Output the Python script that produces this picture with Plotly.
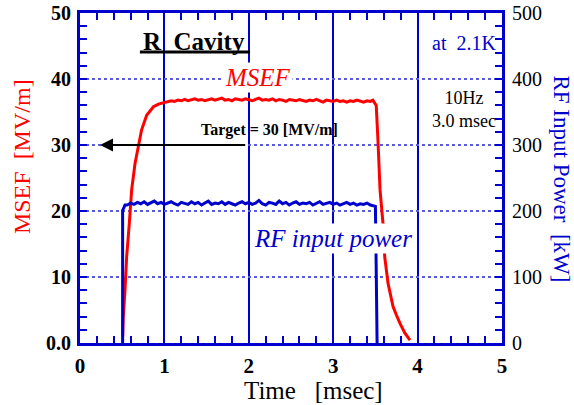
import plotly.graph_objects as go

# ---------------- data ----------------
msef_time = [0.506, 0.513, 0.533, 0.553, 0.584, 0.612, 0.652, 0.691, 0.73, 0.79, 0.87, 0.93, 0.99,
             1.04, 1.08, 1.12, 1.16, 1.20, 1.24, 1.28, 1.32, 1.36, 1.40,
             1.44, 1.48, 1.52, 1.56, 1.60, 1.64, 1.68, 1.72, 1.76, 1.80,
             1.84, 1.88, 1.92, 1.96, 2.00, 2.04, 2.08, 2.12, 2.16, 2.20,
             2.24, 2.28, 2.32, 2.36, 2.40, 2.44, 2.48, 2.52, 2.56, 2.60,
             2.64, 2.68, 2.72, 2.76, 2.80, 2.84, 2.88, 2.92, 2.96, 3.00,
             3.04, 3.08, 3.12, 3.16, 3.20, 3.24, 3.28, 3.32, 3.36, 3.40,
             3.44, 3.47, 3.50, 3.51, 3.53, 3.555, 3.59, 3.61, 3.65, 3.71, 3.75, 3.79, 3.85, 3.91]
msef_value = [1.0, 4.0, 8.0, 13.1, 18.1, 23.2, 27.2, 30.0, 32.3, 34.5, 35.8, 36.2, 36.4,
              36.5, 36.7, 36.6, 36.8, 36.7, 36.9, 36.7, 36.8, 37.0, 36.8,
              36.9, 36.7, 36.9, 37.0, 36.8, 36.9, 37.1, 36.8, 36.9, 36.7,
              37.0, 36.9, 36.8, 37.0, 36.9, 36.7, 36.9, 37.1, 36.8, 36.9,
              36.8, 37.0, 36.7, 36.9, 36.8, 36.6, 36.9, 36.8, 36.7, 36.9,
              36.8, 36.6, 36.8, 36.7, 36.9, 36.7, 36.5, 36.8, 36.7, 36.6,
              36.8, 36.6, 36.7, 36.5, 36.7, 36.6, 36.8, 36.6, 36.5, 36.7,
              36.6, 36.8, 36.3, 36.0, 30.8, 23.2, 18.1, 13.1, 9.0, 5.5, 4.2, 3.0, 1.5, 0.45]

rf_time = [0.505, 0.505, 0.52, 0.533,
           0.56, 0.60, 0.64, 0.68, 0.72, 0.76, 0.80, 0.84, 0.88, 0.92,
           0.96, 1.00, 1.04, 1.08, 1.12, 1.16, 1.20, 1.24, 1.28, 1.32,
           1.36, 1.40, 1.44, 1.48, 1.52, 1.56, 1.60, 1.64, 1.68, 1.72,
           1.76, 1.80, 1.84, 1.88, 1.92, 1.96, 2.00, 2.04, 2.08, 2.12,
           2.16, 2.20, 2.24, 2.28, 2.32, 2.36, 2.40, 2.44, 2.48, 2.52,
           2.56, 2.60, 2.64, 2.68, 2.72, 2.76, 2.80, 2.84, 2.88, 2.92,
           2.96, 3.00, 3.04, 3.08, 3.12, 3.16, 3.20, 3.24, 3.28, 3.32,
           3.36, 3.40, 3.44, 3.48, 3.50, 3.507, 3.52]
rf_power = [0, 201, 205, 209,
            209, 212, 210, 213, 211, 214, 210, 212, 215, 211,
            213, 210, 212, 214, 211, 209, 213, 212, 210, 214,
            211, 213, 209, 212, 215, 210, 212, 211, 214, 210,
            213, 211, 209, 212, 214, 211, 213, 210, 212, 216,
            211, 209, 213, 212, 210, 215, 211, 213, 209, 212,
            214, 210, 212, 211, 213, 209, 212, 214, 210, 211,
            213, 210, 212, 209, 211, 213, 210, 212, 209, 211,
            210, 212, 209, 208, 207, 140, 0]

left_tickvals = [0, 10, 20, 30, 40, 50]
left_ticktext = ["0.0", "10", "20", "30", "40", "50"]
right_tickvals = [0, 100, 200, 300, 400, 500]
right_ticktext = ["0", "100", "200", "300", "400", "500"]
x_tickvals = [0, 1, 2, 3, 4, 5]
x_ticktext = ["0", "1", "2", "3", "4", "5"]

# ---------------- style ----------------
FONT = "Liberation Serif"
BLUE = "#0000CC"
RED = "#FF0000"
GRID_DOT = "#5a5ade"

fig = go.Figure()
fig.add_trace(go.Scatter(x=rf_time, y=rf_power, yaxis="y2", mode="lines",
                         line=dict(color=BLUE, width=3), showlegend=False))
fig.add_trace(go.Scatter(x=msef_time, y=msef_value, mode="lines",
                         line=dict(color=RED, width=3), showlegend=False))

fig.update_layout(
    width=574, height=405,
    margin=dict(l=80, r=72, t=13, b=62),
    paper_bgcolor="white", plot_bgcolor="white",
    font=dict(family=FONT, color="black"),
    xaxis=dict(range=[0, 5], tickvals=x_tickvals, ticktext=x_ticktext, automargin=False,
               ticks="inside", ticklen=7, tickwidth=2, tickcolor=BLUE,
               minor=dict(dtick=0.2, ticks="inside", ticklen=7, tickwidth=2, tickcolor=BLUE, showgrid=False),
               showline=True, linewidth=3, linecolor=BLUE, mirror="ticks",
               showgrid=True, gridcolor=BLUE, gridwidth=2, zeroline=False,
               tickfont=dict(family=FONT, size=21, color="black", weight="bold"),
               ticklabelstandoff=2),
    yaxis=dict(range=[0, 50], tickvals=left_tickvals, ticktext=left_ticktext, automargin=False,
               ticks="inside", ticklen=7, tickwidth=2, tickcolor=BLUE,
               minor=dict(dtick=2, ticks="inside", ticklen=7, tickwidth=2, tickcolor=BLUE, showgrid=False),
               showline=True, linewidth=3, linecolor=BLUE, mirror="ticks",
               showgrid=True, gridcolor=GRID_DOT, gridwidth=2, griddash="dot", zeroline=False,
               tickfont=dict(family=FONT, size=20, color="black", weight="bold"),
               ticklabelstandoff=2),
    yaxis2=dict(range=[0, 500], overlaying="y", side="right", automargin=False,
                tickvals=right_tickvals, ticktext=right_ticktext,
                ticks="", showline=False, showgrid=False, zeroline=False,
                tickfont=dict(family=FONT, size=20, color="black"),
                ticklabelstandoff=9),
)

fig.add_annotation(text="Time   [msec]", xref="paper", yref="paper", x=0.5545, y=-0.145,
                   showarrow=False, font=dict(family=FONT, size=25, color="black"),
                   xanchor="center", yanchor="middle")
fig.add_annotation(text="MSEF  [MV/m]", xref="paper", yref="paper", x=-0.137, y=0.564,
                   showarrow=False, textangle=-90, font=dict(family=FONT, size=24, color=RED),
                   xanchor="center", yanchor="middle")
fig.add_annotation(text="RF Input Power  [kW]", xref="paper", yref="paper", x=1.141, y=0.497,
                   showarrow=False, textangle=90, font=dict(family=FONT, size=23, color=BLUE),
                   xanchor="center", yanchor="middle")
# white patch hiding the grid line behind the title, then the title and its underline
fig.add_shape(type="rect", xref="paper", yref="paper", x0=0.142, x1=0.403, y0=0.888, y1=0.96,
              line=dict(width=0), fillcolor="white", layer="between")
fig.add_annotation(text="<b>R  Cavity</b>", xref="paper", yref="paper", x=0.270, y=0.915,
                   showarrow=False, font=dict(family=FONT, size=25, color="black"),
                   xanchor="center", yanchor="middle")
fig.add_shape(type="line", xref="paper", yref="paper", x0=0.142, x1=0.403, y0=0.882, y1=0.882,
              line=dict(color="black", width=3), layer="above")
fig.add_annotation(text="<i>MSEF</i>", xref="paper", yref="paper", x=0.4218, y=0.806,
                   showarrow=False, font=dict(family=FONT, size=25, color=RED),
                   bgcolor="white", xanchor="center", yanchor="middle")
fig.add_annotation(text="at  2.1K", xref="paper", yref="paper", x=0.9905, y=0.909,
                   showarrow=False, font=dict(family=FONT, size=20, color=BLUE),
                   xanchor="right", yanchor="middle")
fig.add_annotation(text="10Hz<br>3.0 msec", xref="paper", yref="paper", x=0.910, y=0.709,
                   showarrow=False, font=dict(family=FONT, size=18, color="black"),
                   align="center", xanchor="center", yanchor="middle")
fig.add_annotation(text="<b>Target = 30 [MV/m]</b>", xref="paper", yref="paper", x=0.448, y=0.645,
                   showarrow=False, font=dict(family=FONT, size=16, color="black"),
                   xanchor="center", yanchor="middle")
fig.add_annotation(text="", x=0.237, y=30, xref="x", yref="y", ax=1.975, ay=30, axref="x", ayref="y",
                   showarrow=True, arrowhead=2, arrowsize=1.3, arrowwidth=2, arrowcolor="black")
fig.add_annotation(text="<i>RF input power</i>", xref="paper", yref="paper", x=0.6, y=0.318,
                   showarrow=False, font=dict(family=FONT, size=25, color=BLUE),
                   bgcolor="white", xanchor="center", yanchor="middle")

fig.write_html("out.html", config={"displayModeBar": False},
               post_script="document.body.style.margin='0px';")
